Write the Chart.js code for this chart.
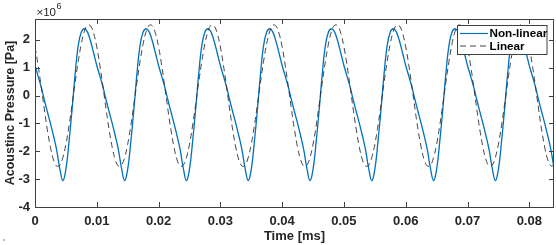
<!DOCTYPE html>
<html>
<head>
<meta charset="utf-8">
<script src="https://cdn.jsdelivr.net/npm/chart.js@4.4.1/dist/chart.umd.min.js"></script>
<style>
  html, body { margin: 0; padding: 0; background: #fff; }
  #wrap { position: relative; width: 556px; height: 245px; }
  #dot { position: absolute; left: 3px; top: 239px; width: 2px; height: 2px; background: #a9b062; border-radius: 1px; }
</style>
</head>
<body>
<div id="wrap">
  <canvas id="chart" width="556" height="245"></canvas>
  <div id="dot"></div>
</div>
<script>
// ---- Data (pressure in units of 1e6 Pa, time in ms) ----

const timeMs = [
  0, 0.0005, 0.001, 0.0015, 0.002, 0.0025, 0.003, 0.0035, 0.004, 0.0045, 0.005, 0.0055, 0.006, 0.0065, 0.007, 0.0075, 0.008, 0.0085, 0.009, 0.0095,
  0.01, 0.0105, 0.011, 0.0115, 0.012, 0.0125, 0.013, 0.0135, 0.014, 0.0145, 0.015, 0.0155, 0.016, 0.0165, 0.017, 0.0175, 0.018, 0.0185, 0.019, 0.0195,
  0.02, 0.0205, 0.021, 0.0215, 0.022, 0.0225, 0.023, 0.0235, 0.024, 0.0245, 0.025, 0.0255, 0.026, 0.0265, 0.027, 0.0275, 0.028, 0.0285, 0.029, 0.0295,
  0.03, 0.0305, 0.031, 0.0315, 0.032, 0.0325, 0.033, 0.0335, 0.034, 0.0345, 0.035, 0.0355, 0.036, 0.0365, 0.037, 0.0375, 0.038, 0.0385, 0.039, 0.0395,
  0.04, 0.0405, 0.041, 0.0415, 0.042, 0.0425, 0.043, 0.0435, 0.044, 0.0445, 0.045, 0.0455, 0.046, 0.0465, 0.047, 0.0475, 0.048, 0.0485, 0.049, 0.0495,
  0.05, 0.0505, 0.051, 0.0515, 0.052, 0.0525, 0.053, 0.0535, 0.054, 0.0545, 0.055, 0.0555, 0.056, 0.0565, 0.057, 0.0575, 0.058, 0.0585, 0.059, 0.0595,
  0.06, 0.0605, 0.061, 0.0615, 0.062, 0.0625, 0.063, 0.0635, 0.064, 0.0645, 0.065, 0.0655, 0.066, 0.0665, 0.067, 0.0675, 0.068, 0.0685, 0.069, 0.0695,
  0.07, 0.0705, 0.071, 0.0715, 0.072, 0.0725, 0.073, 0.0735, 0.074, 0.0745, 0.075, 0.0755, 0.076, 0.0765, 0.077, 0.0775, 0.078, 0.0785, 0.079, 0.0795,
  0.08, 0.0805, 0.081, 0.0815, 0.082, 0.0825, 0.083, 0.0835, 0.084
];

const pressureNonlinear = [
  1.08, 0.70, 0.31, -0.15, -0.58, -1.00, -1.45, -1.95, -2.60, -3.05, -2.65, -1.67, -0.50, 0.79, 1.80, 2.28, 2.40, 2.28, 1.95, 1.52,
  1.08, 0.70, 0.31, -0.15, -0.58, -1.00, -1.45, -1.95, -2.60, -3.05, -2.65, -1.67, -0.50, 0.79, 1.80, 2.28, 2.40, 2.28, 1.95, 1.52,
  1.08, 0.70, 0.31, -0.15, -0.58, -1.00, -1.45, -1.95, -2.60, -3.05, -2.65, -1.67, -0.50, 0.79, 1.80, 2.28, 2.40, 2.28, 1.95, 1.52,
  1.08, 0.70, 0.31, -0.15, -0.58, -1.00, -1.45, -1.95, -2.60, -3.05, -2.65, -1.67, -0.50, 0.79, 1.80, 2.28, 2.40, 2.28, 1.95, 1.52,
  1.08, 0.70, 0.31, -0.15, -0.58, -1.00, -1.45, -1.95, -2.60, -3.05, -2.65, -1.67, -0.50, 0.79, 1.80, 2.28, 2.40, 2.28, 1.95, 1.52,
  1.08, 0.70, 0.31, -0.15, -0.58, -1.00, -1.45, -1.95, -2.60, -3.05, -2.65, -1.67, -0.50, 0.79, 1.80, 2.28, 2.40, 2.28, 1.95, 1.52,
  1.08, 0.70, 0.31, -0.15, -0.58, -1.00, -1.45, -1.95, -2.60, -3.05, -2.65, -1.67, -0.50, 0.79, 1.80, 2.28, 2.40, 2.28, 1.95, 1.52,
  1.08, 0.70, 0.31, -0.15, -0.58, -1.00, -1.45, -1.95, -2.60, -3.05, -2.65, -1.67, -0.50, 0.79, 1.80, 2.28, 2.40, 2.28, 1.95, 1.52,
  1.08, 0.70, 0.31, -0.15, -0.58, -1.00, -1.45, -1.95, -2.60
];

const pressureLinear = [
  1.75, 1.09, 0.32, -0.48, -1.23, -1.86, -2.31, -2.53, -2.50, -2.23, -1.75, -1.09, -0.32, 0.48, 1.23, 1.86, 2.31, 2.53, 2.50, 2.23,
  1.75, 1.09, 0.32, -0.48, -1.23, -1.86, -2.31, -2.53, -2.50, -2.23, -1.75, -1.09, -0.32, 0.48, 1.23, 1.86, 2.31, 2.53, 2.50, 2.23,
  1.75, 1.09, 0.32, -0.48, -1.23, -1.86, -2.31, -2.53, -2.50, -2.23, -1.75, -1.09, -0.32, 0.48, 1.23, 1.86, 2.31, 2.53, 2.50, 2.23,
  1.75, 1.09, 0.32, -0.48, -1.23, -1.86, -2.31, -2.53, -2.50, -2.23, -1.75, -1.09, -0.32, 0.48, 1.23, 1.86, 2.31, 2.53, 2.50, 2.23,
  1.75, 1.09, 0.32, -0.48, -1.23, -1.86, -2.31, -2.53, -2.50, -2.23, -1.75, -1.09, -0.32, 0.48, 1.23, 1.86, 2.31, 2.53, 2.50, 2.23,
  1.75, 1.09, 0.32, -0.48, -1.23, -1.86, -2.31, -2.53, -2.50, -2.23, -1.75, -1.09, -0.32, 0.48, 1.23, 1.86, 2.31, 2.53, 2.50, 2.23,
  1.75, 1.09, 0.32, -0.48, -1.23, -1.86, -2.31, -2.53, -2.50, -2.23, -1.75, -1.09, -0.32, 0.48, 1.23, 1.86, 2.31, 2.53, 2.50, 2.23,
  1.75, 1.09, 0.32, -0.48, -1.23, -1.86, -2.31, -2.53, -2.50, -2.23, -1.75, -1.09, -0.32, 0.48, 1.23, 1.86, 2.31, 2.53, 2.50, 2.23,
  1.75, 1.09, 0.32, -0.48, -1.23, -1.86, -2.31, -2.53, -2.50
];

const xTicks = [0, 0.01, 0.02, 0.03, 0.04, 0.05, 0.06, 0.07, 0.08];
const yTicks = [-4, -3, -2, -1, 0, 1, 2];
const yExponent = '6';

// ---- Styling ----

const AXIS_COLOR = '#404040';
const FONT = "'Liberation Sans', Arial, Helvetica, sans-serif";
Chart.defaults.font.family = FONT;
Chart.defaults.color = '#262626';

// box around the axes with inward ticks on all four sides (MATLAB look)
const boxPlugin = {
  id: 'box',
  afterDatasetsDraw(chart) {
    const { ctx, chartArea: a, scales: { x, y } } = chart;
    ctx.save();
    ctx.strokeStyle = AXIS_COLOR;
    ctx.lineWidth = 1;
    ctx.strokeRect(a.left + 0.5, a.top + 0.5, a.right - a.left - 1, a.bottom - a.top);
    ctx.beginPath();
    xTicks.forEach(v => {
      const px = Math.round(x.getPixelForValue(v)) + 0.5;
      ctx.moveTo(px, a.bottom); ctx.lineTo(px, a.bottom - 5);
      ctx.moveTo(px, a.top); ctx.lineTo(px, a.top + 5);
    });
    yTicks.forEach(v => {
      const py = Math.round(y.getPixelForValue(v)) + 0.5;
      ctx.moveTo(a.left, py); ctx.lineTo(a.left + 5, py);
      ctx.moveTo(a.right, py); ctx.lineTo(a.right - 5, py);
    });
    ctx.stroke();
    ctx.restore();
  }
};

// legend box in the upper right + the x10^6 multiplier
const legendPlugin = {
  id: 'matlabLegend',
  afterDraw(chart) {
    const { ctx } = chart;
    ctx.save();
    ctx.fillStyle = '#fff';
    ctx.fillRect(457.5, 25.5, 89.5, 29);
    ctx.strokeStyle = AXIS_COLOR;
    ctx.lineWidth = 1;
    ctx.strokeRect(457.5, 25.5, 89.5, 29);

    chart.data.datasets.forEach((ds, i) => {
      const rowY = 33.5 + i * 12.5;
      ctx.strokeStyle = ds.borderColor;
      ctx.lineWidth = 1.2;
      ctx.setLineDash(ds.borderDash || []);
      ctx.beginPath();
      ctx.moveTo(460, rowY);
      ctx.lineTo(488, rowY);
      ctx.stroke();
      ctx.setLineDash([]);
      ctx.fillStyle = '#000';
      ctx.font = `bold 11.7px ${FONT}`;
      ctx.textBaseline = 'middle';
      ctx.fillText(ds.label, 489.5, rowY + 0.5);
    });

    ctx.fillStyle = '#262626';
    ctx.textBaseline = 'alphabetic';
    ctx.font = `11.5px ${FONT}`;
    ctx.fillText('\u00d710', 36.5, 16);
    const w = ctx.measureText('\u00d710').width;
    ctx.font = `9px ${FONT}`;
    ctx.fillText(yExponent, 36.5 + w + 0.5, 9);
    ctx.restore();
  }
};

new Chart(document.getElementById('chart'), {
  type: 'line',
  data: {
    datasets: [
      {
        label: 'Non-linear',
        data: timeMs.map((t, i) => ({ x: t, y: pressureNonlinear[i] })),
        borderColor: '#0072BD',
        borderWidth: 1.3,
        pointRadius: 0,
        tension: 0.4,
        order: 1,
      },
      {
        label: 'Linear',
        data: timeMs.map((t, i) => ({ x: t, y: pressureLinear[i] })),
        borderColor: 'rgba(50, 50, 50, 0.9)',
        borderWidth: 1,
        borderDash: [6, 4],
        pointRadius: 0,
        tension: 0.4,
        order: 0,
      },
    ]
  },
  options: {
    responsive: false,
    animation: false,
    events: [],
    layout: { padding: { top: 19, right: 2, left: 0, bottom: 0 } },
    plugins: { legend: { display: false }, tooltip: { enabled: false } },
    scales: {
      x: {
        type: 'linear',
        min: 0,
        max: 0.084,
        afterBuildTicks: s => { s.ticks = xTicks.map(v => ({ value: v })); },
        afterFit: s => { s.height = 38; },
        grid: { display: false, drawTicks: false },
        border: { display: false },
        ticks: {
          autoSkip: false,
          maxRotation: 0,
          padding: 7,
          font: { size: 13, weight: 'bold' },
          callback: v => String(+v.toFixed(2)),
        },
        title: {
          display: true,
          text: 'Time [ms]',
          font: { size: 13, weight: 'bold' },
          padding: { top: 0, bottom: 1 },
        },
      },
      y: {
        type: 'linear',
        min: -4,
        max: 2.75,
        afterBuildTicks: s => { s.ticks = yTicks.map(v => ({ value: v })); },
        afterFit: s => { s.width = 35; },
        grid: { display: false, drawTicks: false },
        border: { display: false },
        ticks: {
          padding: 5,
          font: { size: 13, weight: 'bold' },
          callback: v => String(v),
        },
        title: {
          display: true,
          text: 'Acoustinc Pressure [Pa]',
          font: { size: 12.5, weight: 'bold' },
          padding: { top: 3, bottom: 2 },
        },
      },
    },
  },
  plugins: [boxPlugin, legendPlugin],
});
</script>
</body>
</html>
